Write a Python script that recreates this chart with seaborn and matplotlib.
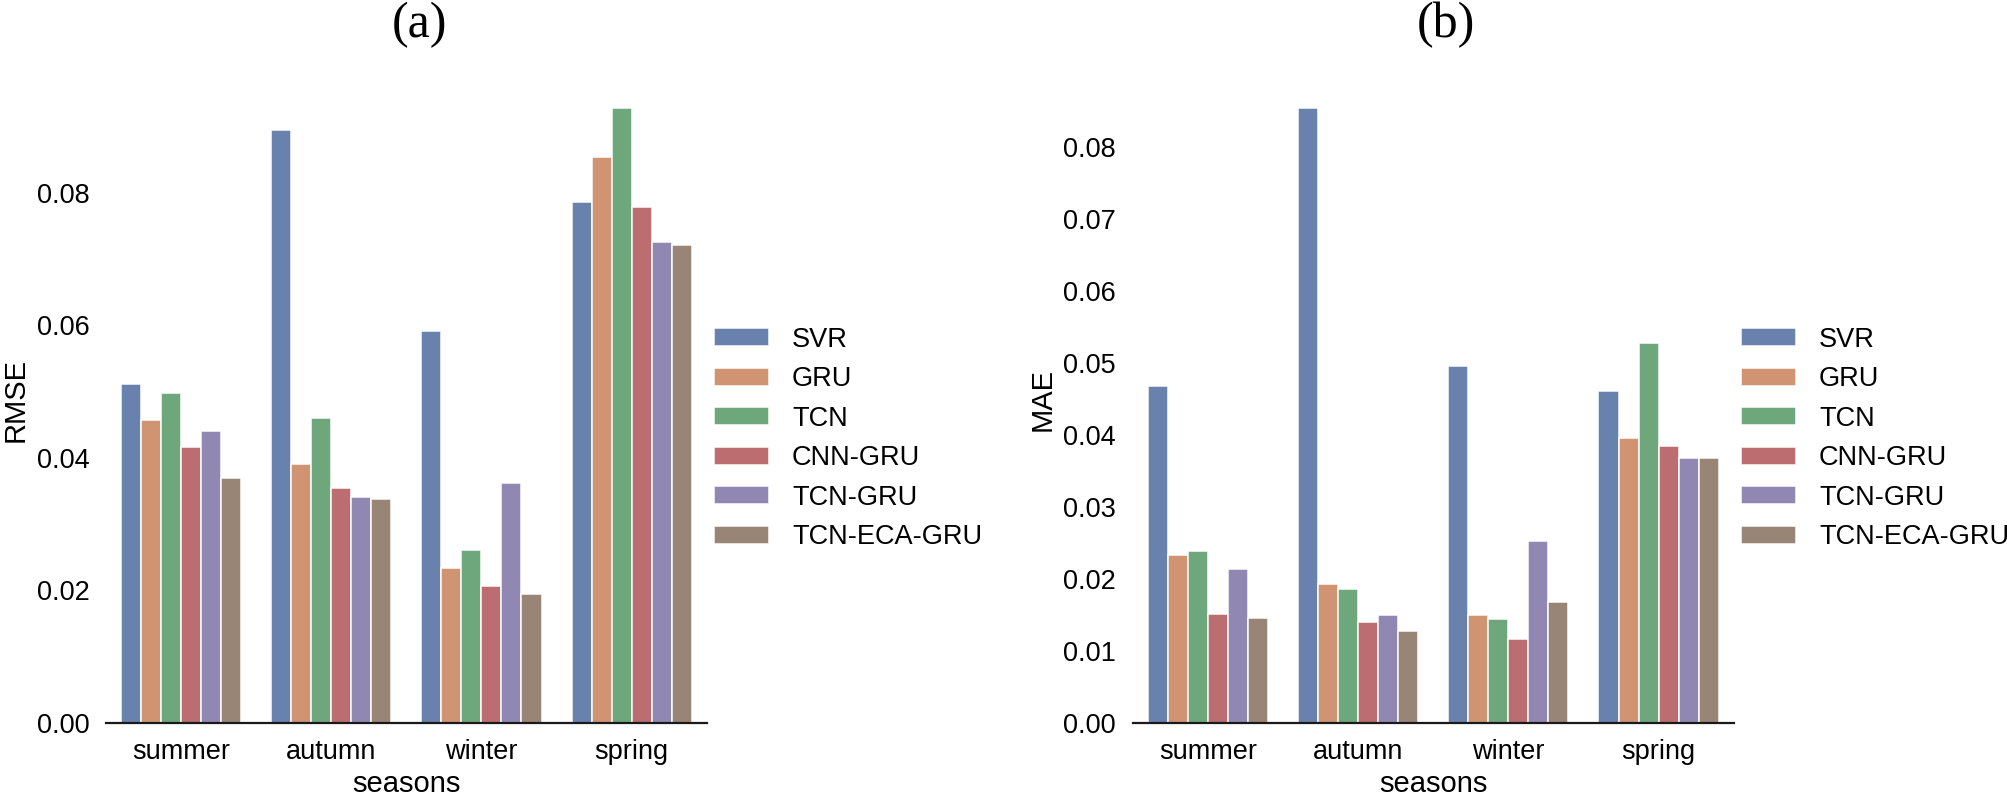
import pandas as pd
import numpy as np
import seaborn as sns
from matplotlib import pyplot as plt
from matplotlib.ticker import MultipleLocator

seasons = ["summer", "autumn", "winter", "spring"]
models = ["SVR", "GRU", "TCN", "CNN-GRU", "TCN-GRU", "TCN-ECA-GRU"]

# rows follow the seasons, columns follow the models
rmse_summer = [0.0511, 0.0457, 0.0498, 0.0416, 0.0440, 0.0369]
rmse_autumn = [0.0895, 0.0391, 0.0460, 0.0354, 0.0341, 0.0338]
rmse_winter = [0.0591, 0.0234, 0.0260, 0.0207, 0.0362, 0.0194]
rmse_spring = [0.0786, 0.0854, 0.0928, 0.0779, 0.0725, 0.0721]

mae_summer = [0.0468, 0.0233, 0.0238, 0.0151, 0.0213, 0.0146]
mae_autumn = [0.0854, 0.0192, 0.0186, 0.0140, 0.0149, 0.0127]
mae_winter = [0.0496, 0.0150, 0.0144, 0.0116, 0.0253, 0.0168]
mae_spring = [0.0461, 0.0396, 0.0527, 0.0385, 0.0368, 0.0368]


def to_long(rows, metric):
    records = []
    for season, values in zip(seasons, rows):
        for model, v in zip(models, values):
            records.append({"seasons": season, "model": model, metric: v})
    return pd.DataFrame(records)


rmse_df = to_long([rmse_summer, rmse_autumn, rmse_winter, rmse_spring], "RMSE")
mae_df = to_long([mae_summer, mae_autumn, mae_winter, mae_spring], "MAE")

sns.set_theme(style="white", palette="deep")
plt.rcParams["font.family"] = ["Liberation Sans", "DejaVu Sans"]
plt.rcParams["text.color"] = "black"
plt.rcParams["axes.labelcolor"] = "black"
plt.rcParams["xtick.color"] = "black"
plt.rcParams["ytick.color"] = "black"

W, H = 2008, 795
fig = plt.figure(figsize=(W / 100, H / 100), dpi=100)

ax_left = fig.add_axes([106 / W, 72.3 / H, 600.7 / W, 645.6 / H])
ax_right = fig.add_axes([1132.7 / W, 72.3 / H, 601 / W, 645.6 / H])

panels = [
    (ax_left, rmse_df, "RMSE", "(a)", 0.02),
    (ax_right, mae_df, "MAE", "(b)", 0.01),
]

for ax, df, metric, title, step in panels:
    sns.barplot(data=df, x="seasons", y=metric, hue="model", ax=ax,
                errorbar=None, alpha=0.9, edgecolor="white", linewidth=1.2)
    ax.set_xlim(-0.5, 3.5)
    ax.set_ylim(0, df[metric].max() * 1.05)
    ax.yaxis.set_major_locator(MultipleLocator(step))
    ax.yaxis.set_major_formatter(plt.FormatStrFormatter("%.2f"))
    ax.tick_params(axis="both", length=0, labelsize=19.5)
    ax.tick_params(axis="y", pad=12)
    ax.tick_params(axis="x", pad=12)
    ax.set_xlabel("seasons", fontsize=21)
    ax.set_ylabel(metric, fontsize=21)
    ax.xaxis.set_label_coords(0.5, -0.074)
    ax.yaxis.set_label_coords(-0.127, 0.5)
    sns.despine(ax=ax, left=True)
    ax.spines["bottom"].set_color("#1a1a1a")
    ax.spines["bottom"].set_linewidth(1.6)

    handles, labels = ax.get_legend_handles_labels()
    ax.get_legend().remove()
    ax.legend(handles, labels, loc="center left", bbox_to_anchor=(1.012, 0.44),
              frameon=False, fontsize=19.5, borderpad=0, borderaxespad=0,
              handlelength=2.05, handleheight=0.65, handletextpad=0.83,
              labelspacing=0.5)

    pos = ax.get_position()
    cx = (pos.x0 + pos.x1) / 2 + 13 / W
    fig.text(cx, 1 - 25.3 / H, title, ha="center", va="center",
             family=["Liberation Serif", "DejaVu Serif"], fontsize=36)

fig.savefig("out.png", dpi=100)
